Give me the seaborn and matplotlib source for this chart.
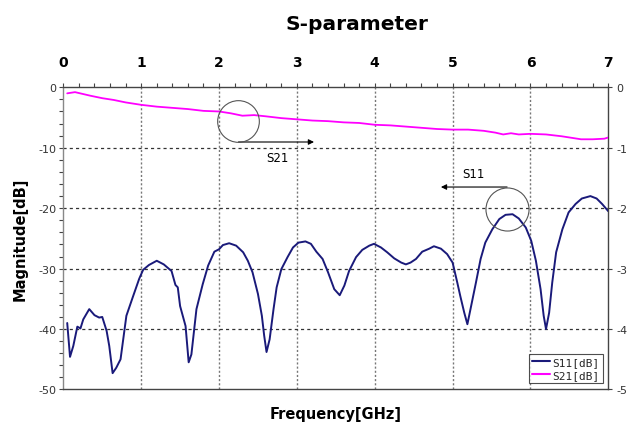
import matplotlib
matplotlib.use("Agg")
import matplotlib.pyplot as plt
import seaborn as sns
import pandas as pd
from matplotlib.ticker import MultipleLocator, FixedLocator
from matplotlib.lines import Line2D

# ---- data ----
s11_freq = [0.05, 0.086, 0.128, 0.18, 0.22, 0.256, 0.333, 0.40, 0.46, 0.50, 0.556, 0.59, 0.633, 0.68,
            0.735, 0.81, 0.89, 0.974, 1.025, 1.10, 1.20, 1.29, 1.39, 1.44, 1.47, 1.50, 1.57, 1.61,
            1.645, 1.71, 1.79, 1.86, 1.94, 2.0, 2.05, 2.13, 2.22, 2.31, 2.37, 2.43, 2.50, 2.55, 2.58,
            2.61, 2.65, 2.70, 2.74, 2.80, 2.88, 2.95, 3.02, 3.11, 3.18, 3.25, 3.33, 3.40, 3.48, 3.55,
            3.61, 3.67, 3.76, 3.84, 3.93, 3.99, 4.08, 4.16, 4.25, 4.34, 4.40, 4.46, 4.53, 4.61, 4.70,
            4.76, 4.85, 4.93, 5.0, 5.06, 5.10, 5.15, 5.19, 5.23, 5.30, 5.36, 5.42, 5.51, 5.60, 5.68,
            5.77, 5.85, 5.94, 6.01, 6.07, 6.13, 6.17, 6.20, 6.24, 6.28, 6.33, 6.41, 6.49, 6.58, 6.66,
            6.77, 6.85, 6.92, 7.0]
s11_db = [-39.0, -44.6, -42.8, -39.6, -39.9, -38.4, -36.7, -37.7, -38.1, -38.0, -40.3, -42.8, -47.3, -46.4,
          -45.0, -37.8, -34.8, -31.7, -30.2, -29.4, -28.7, -29.3, -30.4, -32.7, -33.1, -36.2, -39.5, -45.5,
          -44.2, -36.7, -32.6, -29.5, -27.2, -26.8, -26.1, -25.8, -26.2, -27.3, -28.7, -30.6, -34.2, -37.8, -41.1,
          -43.8, -41.7, -36.7, -33.1, -30.1, -28.1, -26.5, -25.7, -25.5, -25.9, -27.2, -28.4, -30.6, -33.4, -34.4,
          -32.8, -30.4, -28.1, -26.9, -26.2, -25.9, -26.5, -27.3, -28.3, -29.0, -29.3, -29.0, -28.4, -27.2, -26.7,
          -26.3, -26.7, -27.6, -29.0, -32.3, -34.6, -37.3, -39.2, -36.7, -32.3, -28.4, -25.7, -23.5, -21.8, -21.1,
          -21.0, -21.7, -23.2, -25.4, -28.7, -33.4, -37.8, -40.0, -37.3, -32.3, -27.3, -23.5, -20.7, -19.3, -18.4,
          -18.0, -18.4, -19.3, -20.5]

s21_freq = [0.05, 0.15, 0.25, 0.35, 0.5, 0.65, 0.8, 1.0, 1.2, 1.4, 1.6, 1.8, 2.0, 2.15, 2.3, 2.45, 2.6,
            2.8, 3.0, 3.2, 3.4, 3.6, 3.8, 4.0, 4.2, 4.4, 4.6, 4.8, 5.0, 5.2, 5.4, 5.55, 5.65, 5.75, 5.85,
            6.0, 6.2, 6.4, 6.55, 6.65, 6.8, 6.95, 7.0]
s21_db = [-1.0, -0.8, -1.1, -1.4, -1.8, -2.1, -2.5, -2.9, -3.2, -3.4, -3.6, -3.9, -4.0, -4.3, -4.7, -4.6, -4.8,
          -5.1, -5.3, -5.5, -5.6, -5.8, -5.9, -6.2, -6.3, -6.5, -6.7, -6.9, -7.0, -7.0, -7.2, -7.5, -7.8, -7.6, -7.8,
          -7.7, -7.8, -8.1, -8.4, -8.6, -8.6, -8.5, -8.3]

x_ticks = [0, 1, 2, 3, 4, 5, 6, 7]
y_ticks = [0, -10, -20, -30, -40, -50]
right_labels = ["0", "-1", "-2", "-3", "-4", "-5"]

series_names = ["S11[dB]", "S21[dB]"]
colors = ["#1a1a7a", "#ff00ff"]

sns.set_style("white")
plt.rcParams["font.family"] = ["DejaVu Sans"]

fig = plt.figure(figsize=(6.32, 4.27), dpi=100)
ax = fig.add_axes([0.1002, 0.0855, 0.8623, 0.7077])

df11 = pd.DataFrame({"freq": s11_freq, "db": s11_db})
df21 = pd.DataFrame({"freq": s21_freq, "db": s21_db})
sns.lineplot(data=df11, x="freq", y="db", ax=ax, color=colors[0], lw=1.4, sort=False, zorder=4)
sns.lineplot(data=df21, x="freq", y="db", ax=ax, color=colors[1], lw=1.3, sort=False, zorder=4)

ax.set_xlim(0, 7)
ax.set_ylim(-50, 0)

# grid
for xv in x_ticks[1:-1]:
    ax.axvline(xv, color="#777777", lw=1.0, linestyle=(0, (1.5, 1.5)), zorder=1)
for yv in y_ticks[1:-1]:
    ax.axhline(yv, color="#333333", lw=0.9, linestyle=(0, (2.5, 2.5)), zorder=1)

# x axis on top
ax.xaxis.tick_top()
ax.xaxis.set_label_position("bottom")
ax.set_xticks(x_ticks)
ax.set_xticklabels([str(v) for v in x_ticks], fontsize=10, fontweight="bold", color="black")
ax.xaxis.set_minor_locator(MultipleLocator(0.2))
ax.tick_params(axis="x", which="both", top=True, bottom=False, direction="out",
               length=3, width=0.8, color="#444444", pad=10)

ax.set_yticks(y_ticks)
ax.set_yticklabels([str(v) for v in y_ticks], fontsize=8, color="#333333")
ax.yaxis.set_minor_locator(MultipleLocator(2))
ax.tick_params(axis="y", which="both", left=True, direction="out", length=3, width=0.8,
               color="#444444", pad=2)

for s in ax.spines.values():
    s.set_color("#444444")
    s.set_linewidth(1.0)
ax.spines["left"].set_color("#888888")

ax.set_xlabel("Frequency[GHz]", fontsize=10.5, fontweight="bold", labelpad=12, color="black")
ax.set_ylabel("Magnitude[dB]", fontsize=10.5, fontweight="bold", labelpad=8, color="black")
ax.set_title("S-parameter", fontsize=14.5, fontweight="bold", pad=42, x=0.538, color="black")

# right axis
ax2 = ax.twinx()
ax2.set_ylim(-50, 0)
ax2.yaxis.set_major_locator(FixedLocator(y_ticks))
ax2.set_yticklabels(right_labels, fontsize=8, color="#333333")
ax2.tick_params(axis="y", right=True, length=3, width=0.8, color="#444444", pad=3)
for s in ax2.spines.values():
    s.set_visible(False)
ax2.grid(False)

# annotations
ax.plot([2.24], [-5.5], marker="o", markersize=30, markerfacecolor="none",
        markeredgecolor="#555555", markeredgewidth=0.8, zorder=5)
ax.plot([5.70], [-20.1], marker="o", markersize=31, markerfacecolor="none",
        markeredgecolor="#555555", markeredgewidth=0.8, zorder=5)
ax.annotate("", xy=(3.22, -9.05), xytext=(2.25, -9.05),
            arrowprops=dict(arrowstyle="-|>", color="black", lw=0.8, mutation_scale=8,
                            shrinkA=0, shrinkB=0))
ax.annotate("", xy=(4.85, -16.5), xytext=(5.70, -16.5),
            arrowprops=dict(arrowstyle="-|>", color="black", lw=0.8, mutation_scale=8,
                            shrinkA=0, shrinkB=0))
ax.text(2.75, -11.6, "S21", fontsize=8.5, ha="center", va="center", color="black")
ax.text(5.27, -14.3, "S11", fontsize=8.5, ha="center", va="center", color="black")

handles = [Line2D([], [], color=c, lw=1.5) for c in colors]
leg = ax.legend(handles, series_names, loc="lower right", bbox_to_anchor=(0.99, 0.02),
                prop={"family": "DejaVu Sans Mono", "size": 8}, frameon=True, fancybox=False,
                handlelength=1.6, handletextpad=0.2, borderpad=0.3, labelspacing=0.25,
                borderaxespad=0.0)
leg.get_frame().set_edgecolor("#222222")
leg.get_frame().set_linewidth(0.8)

fig.savefig("out.png", dpi=100)
